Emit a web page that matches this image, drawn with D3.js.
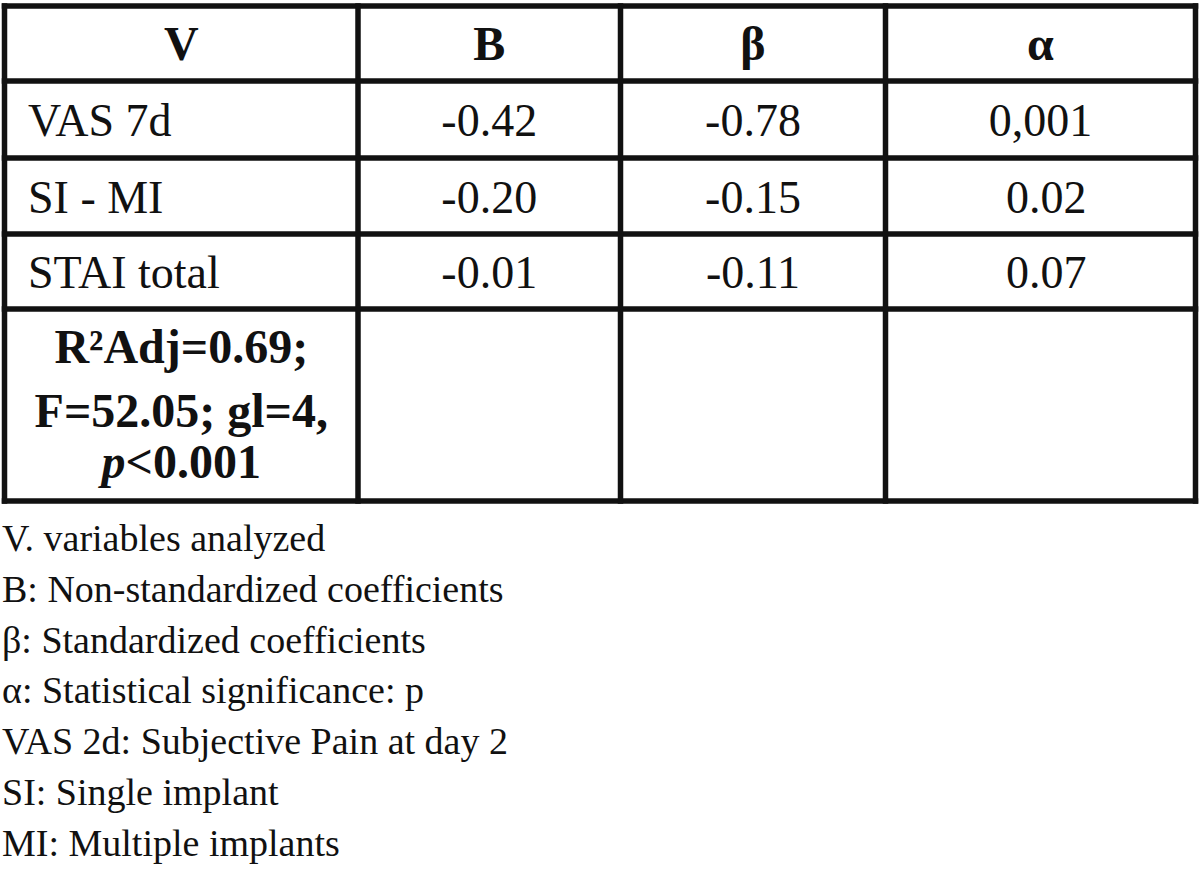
<!DOCTYPE html>
<html>
<head>
<meta charset="utf-8">
<script src="https://cdn.jsdelivr.net/npm/d3@7/dist/d3.min.js"></script>
<style>
  html, body { margin: 0; padding: 0; background: #ffffff; }
  svg { display: block; }
  text { font-family: "Liberation Serif", "Times New Roman", serif; fill: #111; white-space: pre; }
</style>
</head>
<body>
<svg id="chart" width="1200" height="875"></svg>
<script>
// ---- data ----
const headers = ["V", "B", "β", "α"];
const variables = ["VAS 7d", "SI - MI", "STAI total"];
const bValues = ["-0.42", "-0.20", "-0.01"];
const betaValues = ["-0.78", "-0.15", "-0.11"];
const alphaValues = ["0,001", " 0.02", " 0.07"];
const modelSummary = [
  [{t: "R²Adj=0.69;"}],
  [{t: "F=52.05; gl=4,"}],
  [{t: "p", i: true}, {t: "<0.001"}]
];
const footnotes = [
  "V. variables analyzed",
  "B: Non-standardized coefficients",
  "β: Standardized coefficients",
  "α: Statistical significance: p",
  "VAS 2d: Subjective Pain at day 2",
  "SI: Single implant",
  "MI: Multiple implants"
];

// ---- layout ----
const svg = d3.select("#chart");
const colEdges = [4.5, 358, 620.5, 885.5, 1195.5];
const rowEdges = [6, 81, 158, 234, 309, 501];
const colCenter = i => (colEdges[i] + colEdges[i + 1]) / 2;
const rowCenter = i => (rowEdges[i] + rowEdges[i + 1]) / 2;

// grid lines
const gridG = svg.append("g").attr("stroke", "#111").attr("stroke-width", 5.5).attr("stroke-linecap", "square");
gridG.selectAll("line.h").data(rowEdges).join("line").attr("class", "h")
  .attr("x1", colEdges[0]).attr("x2", colEdges[colEdges.length - 1])
  .attr("y1", d => d).attr("y2", d => d);
gridG.selectAll("line.v").data(colEdges).join("line").attr("class", "v")
  .attr("y1", rowEdges[0]).attr("y2", rowEdges[rowEdges.length - 1])
  .attr("x1", d => d).attr("x2", d => d);

// header
svg.append("g").selectAll("text").data(headers).join("text")
  .attr("x", (d, i) => colCenter(i))
  .attr("y", rowCenter(0) + 16.8)
  .attr("text-anchor", "middle")
  .attr("font-size", 48)
  .attr("font-weight", "bold")
  .text(d => d);

// body rows
const bodyFont = 46;
const body = svg.append("g");
body.selectAll("text.var").data(variables).join("text").attr("class", "var")
  .attr("x", 28).attr("y", (d, i) => rowCenter(i + 1) + 16.8)
  .attr("font-size", bodyFont).text(d => d);
[bValues, betaValues, alphaValues].forEach((arr, c) => {
  body.selectAll("text.c" + c).data(arr).join("text").attr("class", "c" + c)
    .attr("x", colCenter(c + 1))
    .attr("y", (d, i) => rowCenter(i + 1) + 16.8)
    .attr("text-anchor", "middle")
    .attr("font-size", bodyFont)
    .text(d => d);
});

// model summary (last row, first column)
const sumBaselines = [363, 427, 478];
const sumG = svg.append("g");
modelSummary.forEach((parts, li) => {
  const t = sumG.append("text")
    .attr("x", colCenter(0))
    .attr("y", sumBaselines[li])
    .attr("text-anchor", "middle")
    .attr("font-size", 48)
    .attr("font-weight", "bold");
  parts.forEach(p => {
    t.append("tspan").attr("font-style", p.i ? "italic" : "normal").text(p.t);
  });
});

// footnotes
svg.append("g").selectAll("text").data(footnotes).join("text")
  .attr("x", 2)
  .attr("y", (d, i) => 551 + i * 50.8)
  .attr("font-size", 38)
  .text(d => d);
</script>
</body>
</html>
